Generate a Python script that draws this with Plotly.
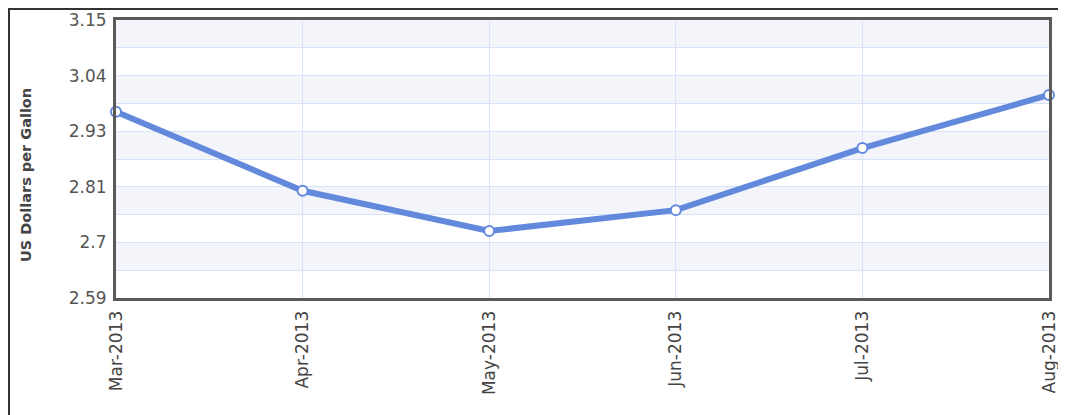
import plotly.graph_objects as go

# monthly average price, US dollars per gallon
months = ["Mar-2013", "Apr-2013", "May-2013", "Jun-2013", "Jul-2013", "Aug-2013"]
prices = [2.965, 2.806, 2.725, 2.767, 2.892, 2.999]

# y axis ticks as shown on the chart
y_ticks = [2.59, 2.702, 2.814, 2.926, 3.038, 3.15]
y_tick_text = ["2.59", "2.7", "2.81", "2.93", "3.04", "3.15"]
y_minor = [(a + b) / 2 for a, b in zip(y_ticks[:-1], y_ticks[1:])]

line_blue = "#6389dc"
grid_blue = "#d6e3fb"
band_fill = "#f3f5fb"

# the page body adds an 8px offset, so the figure is sized to the remaining area
W, H = 1058, 407
L, T, R, B = 108, 12, 17, 117
pw, ph = W - L - R, H - T - B

# alternating bands: shade from each minor line up to the next major tick
shapes = []
for lo, hi in zip(y_minor, y_ticks[1:]):
    shapes.append(dict(type="rect", xref="paper", yref="y", x0=0, x1=1, y0=lo, y1=hi,
                       fillcolor=band_fill, line=dict(width=0), layer="below"))

# outer frame around the whole widget
shapes.append(dict(type="rect", xref="paper", yref="paper",
                   x0=-(L - 1) / pw, x1=1.2, y0=-1.0, y1=1 + (T - 1) / ph,
                   line=dict(color="#333333", width=2), fillcolor="rgba(0,0,0,0)", layer="above"))

fig = go.Figure()
fig.add_trace(go.Scatter(
    x=months, y=prices,
    mode="lines+markers",
    line=dict(color=line_blue, width=6),
    marker=dict(size=10, color="white", line=dict(color=line_blue, width=2)),
    cliponaxis=False,
    hoverinfo="x+y",
))

# y title sits a little below the plot's middle, as in the original widget
fig.add_annotation(
    text="<b>US Dollars per Gallon</b>", textangle=-90,
    xref="paper", yref="paper", x=-90 / pw, y=1 - 155 / ph,
    xanchor="center", yanchor="middle", showarrow=False,
    font=dict(size=14.5, color="#444444"),
)

fig.update_layout(
    width=W, height=H,
    margin=dict(l=L, r=R, t=T, b=B),
    paper_bgcolor="white",
    plot_bgcolor="white",
    showlegend=False,
    shapes=shapes,
    font=dict(family="DejaVu Sans, Verdana, sans-serif", color="#555555"),
    xaxis=dict(
        type="category",
        automargin=False,
        range=[0, len(months) - 1],
        tickangle=-90,
        tickfont=dict(size=17, color="#444444"),
        showgrid=True, gridcolor=grid_blue, gridwidth=1,
        showline=True, linecolor="#5a5a5a", linewidth=3, mirror=True,
        ticks="", ticklabelstandoff=3,
        zeroline=False,
    ),
    yaxis=dict(
        automargin=False,
        range=[y_ticks[0], y_ticks[-1]],
        tickvals=y_ticks, ticktext=y_tick_text,
        tickfont=dict(size=17, color="#555555"),
        showgrid=True, gridcolor=grid_blue, gridwidth=1,
        minor=dict(tickvals=y_minor, showgrid=True, gridcolor=grid_blue, gridwidth=1, ticks=""),
        showline=True, linecolor="#5a5a5a", linewidth=3, mirror=True,
        ticks="", zeroline=False, ticklabelstandoff=3,
    ),
)

fig.write_html("out.html")
